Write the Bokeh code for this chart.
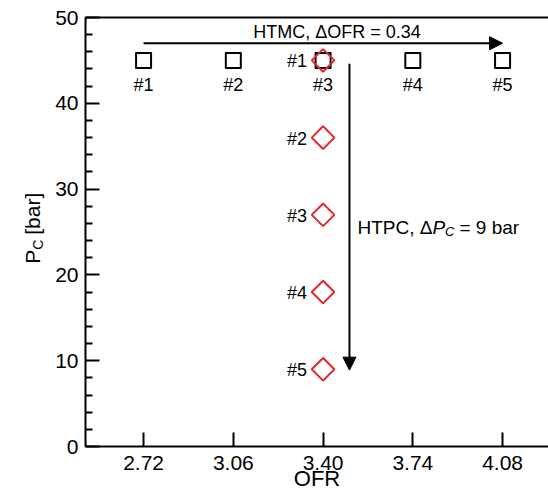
import numpy as np
from bokeh.plotting import figure
from bokeh.layouts import row
from bokeh.models import (ColumnDataSource, Range1d, FixedTicker, LinearAxis,
                          Arrow, NormalHead, Label, NumeralTickFormatter)
from bokeh.embed import file_html
from bokeh.resources import INLINE
from bokeh.core.properties import value

# ---- data ----
htmc_ofr = [2.72, 3.06, 3.40, 3.74, 4.08]
htmc_pc = [45, 45, 45, 45, 45]
htmc_labels = ["#1", "#2", "#3", "#4", "#5"]

htpc_ofr = [3.40, 3.40, 3.40, 3.40, 3.40]
htpc_pc = [45, 36, 27, 18, 9]
htpc_labels = ["#1", "#2", "#3", "#4", "#5"]

x_ticks = [2.72, 3.06, 3.40, 3.74, 4.08]
x_tick_labels = ["2.72", "3.06", "3.40", "3.74", "4.08"]
y_ticks = [0, 10, 20, 30, 40, 50]
y_minor_ticks = [2, 4, 6, 8, 12, 14, 16, 18, 22, 24, 26, 28, 32, 34, 36, 38, 42, 44, 46, 48]

FONT = "Liberation Sans"
RED = "#e3262a"
LEFT_W = 50

y_range = Range1d(0, 50)

p = figure(width=548 - LEFT_W, height=502, output_backend="svg", toolbar_location=None,
           x_range=Range1d(2.50, 4.254), y_range=y_range,
           min_border_left=85 - LEFT_W, min_border_right=0, min_border_top=17, min_border_bottom=56,
           outline_line_color=None, background_fill_color="white",
           border_fill_color="white")
p.xgrid.visible = False
p.ygrid.visible = False

for ax in (p.xaxis[0], p.yaxis[0]):
    ax.axis_line_width = 2
    ax.axis_line_color = "black"
    ax.major_tick_in = 14
    ax.major_tick_out = 0
    ax.major_tick_line_width = 2
    ax.major_tick_line_color = "black"
    ax.minor_tick_in = 7
    ax.minor_tick_out = 0
    ax.minor_tick_line_width = 2
    ax.minor_tick_line_color = "black"
    ax.major_label_text_font = FONT
    ax.major_label_text_font_size = "21px"
    ax.major_label_text_color = "black"
    ax.axis_label_text_font = FONT
    ax.axis_label_text_font_style = "normal"
    ax.axis_label_text_color = "black"

p.xaxis[0].ticker = FixedTicker(ticks=x_ticks)
p.xaxis[0].formatter = NumeralTickFormatter(format="0.00")
p.xaxis[0].major_label_overrides = {t: l for t, l in zip(x_ticks, x_tick_labels)}
p.xaxis[0].minor_tick_line_color = None
p.xaxis[0].major_label_standoff = 9
p.xaxis[0].axis_label = "OFR"
p.xaxis[0].axis_label_text_font_size = "22px"
p.xaxis[0].axis_label_standoff = -7

p.yaxis[0].ticker = FixedTicker(ticks=y_ticks, minor_ticks=y_minor_ticks)
p.yaxis[0].major_label_standoff = 7

top = LinearAxis(ticker=FixedTicker(ticks=[]), axis_line_width=2, axis_line_color="black",
                 major_tick_in=0, major_tick_out=0, minor_tick_in=0, minor_tick_out=0,
                 major_label_text_font_size="0px")
p.add_layout(top, "above")

# arrows
p.add_layout(Arrow(end=NormalHead(size=13, fill_color="black", line_color="black", line_width=1),
                   x_start=2.72, y_start=47.0, x_end=4.08, y_end=47.0,
                   line_width=2, line_color="black"))
p.add_layout(Arrow(end=NormalHead(size=13, fill_color="black", line_color="black", line_width=1),
                   x_start=3.50, y_start=44.6, x_end=3.50, y_end=8.9,
                   line_width=2, line_color="black"))

# annotations
p.add_layout(Label(text="HTMC, \u0394OFR = 0.34", x=3.40, y=48.3, x_offset=14,
                   text_font=FONT, text_font_size="18px", text_align="center",
                   text_baseline="middle", text_color="black"))

htpc_kw = dict(x=3.50, y=25.5, text_font=FONT, text_color="black",
               text_baseline="alphabetic", text_align="left")
p.add_layout(Label(text="HTPC, \u0394", x_offset=8, text_font_size="19px", **htpc_kw))
p.add_layout(Label(text="P", x_offset=83, text_font_size="19px", text_font_style="italic", **htpc_kw))
p.add_layout(Label(text="C", x_offset=95.5, y_offset=-4, text_font_size="13px",
                   text_font_style="italic", **htpc_kw))
p.add_layout(Label(text="= 9 bar", x_offset=110, text_font_size="19px", **htpc_kw))

# markers
sq_src = ColumnDataSource(dict(x=htmc_ofr, y=htmc_pc, t=htmc_labels))
dm_src = ColumnDataSource(dict(x=htpc_ofr, y=htpc_pc, t=htpc_labels))

p.scatter("x", "y", source=sq_src, marker="square", size=15, fill_color=None,
          line_color="black", line_width=2, line_join="round")
p.scatter("x", "y", source=dm_src, marker="square", angle=np.pi / 4, size=16, fill_color=None,
          line_color=RED, line_width=2)

p.text("x", "y", text="t", source=sq_src, y_offset=25, text_align="center",
       text_baseline="middle", text_font=value(FONT), text_font_size="18px", text_color="black")
p.text("x", "y", text="t", source=dm_src, x_offset=-16, y_offset=1, text_align="right",
       text_baseline="middle", text_font=value(FONT), text_font_size="18px", text_color="black")

# ---- left strip carrying the y-axis title P_C [bar] ----
lp = figure(width=LEFT_W, height=502, output_backend="svg", toolbar_location=None,
            x_range=Range1d(0, LEFT_W), y_range=y_range,
            x_axis_location=None, y_axis_location=None,
            min_border_left=0, min_border_right=0, min_border_top=17, min_border_bottom=56,
            outline_line_color=None, background_fill_color="white", border_fill_color="white")
lp.xgrid.visible = False
lp.ygrid.visible = False

ylab_kw = dict(y=21.3, angle=np.pi / 2, text_font=FONT, text_color="black",
               text_baseline="alphabetic", text_align="left")
lp.add_layout(Label(text="P", x=32, y_offset=0, text_font_size="21px", **ylab_kw))
lp.add_layout(Label(text="C", x=37, y_offset=14, text_font_size="14px", **ylab_kw))
lp.add_layout(Label(text="[bar]", x=32, y_offset=29, text_font_size="21px", **ylab_kw))

layout = row(lp, p, spacing=0)
open("out.html", "w").write(file_html(layout, INLINE))
